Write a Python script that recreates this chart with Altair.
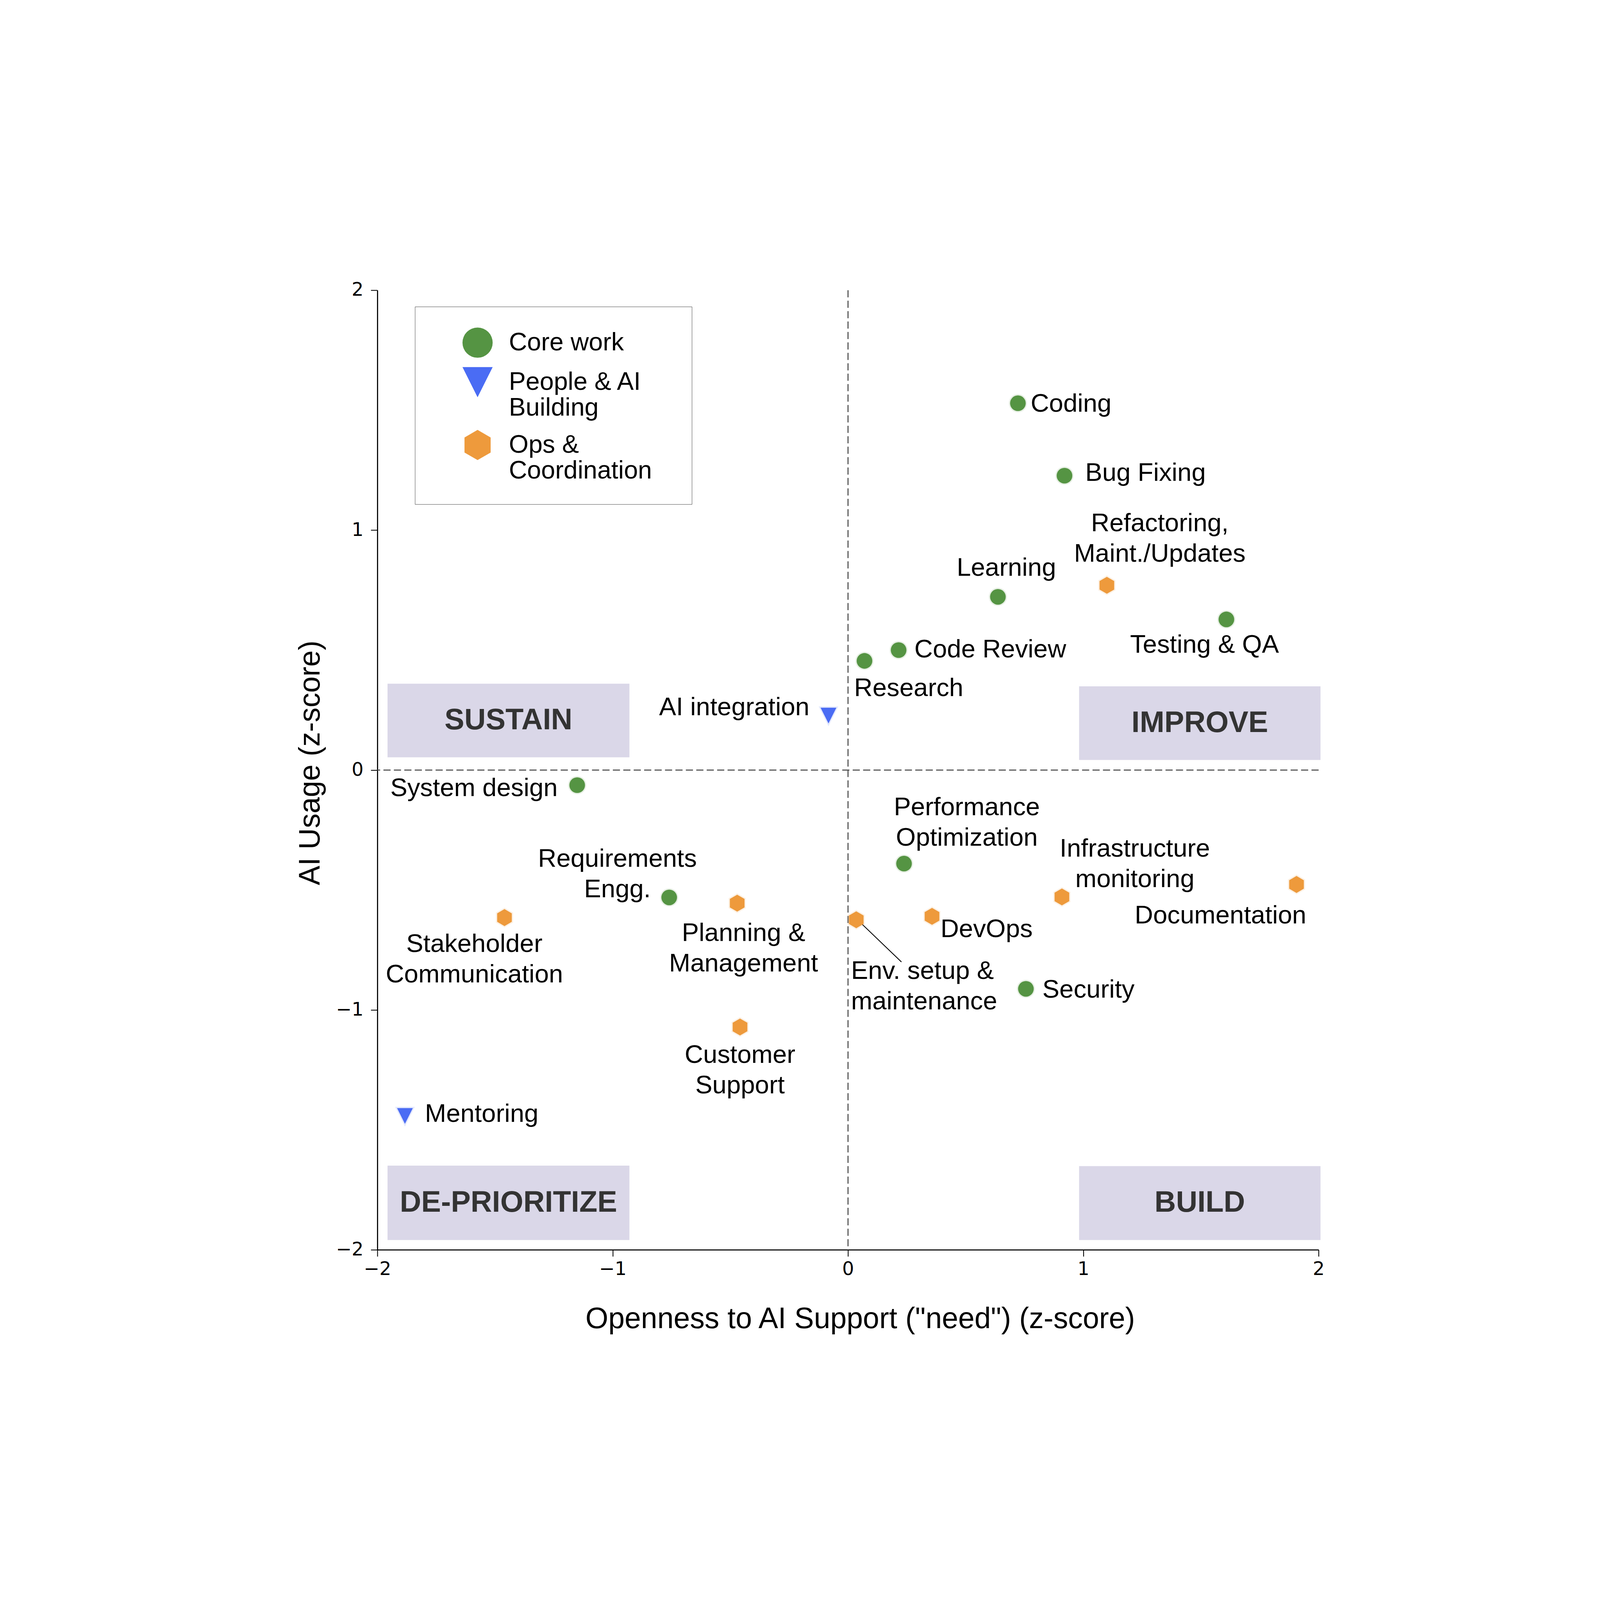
import altair as alt
import pandas as pd

# ---------------- data ----------------
tasks = ["Coding", "Bug Fixing", "Refactoring, Maint./Updates", "Learning", "Testing & QA",
         "Code Review", "Research", "AI integration", "System design", "Requirements Engg.",
         "Planning & Management", "Stakeholder Communication", "Customer Support", "Mentoring",
         "Performance Optimization", "Infrastructure monitoring", "Documentation", "DevOps",
         "Env. setup & maintenance", "Security"]
groups = ["Core work", "Core work", "Ops & Coordination", "Core work", "Core work",
          "Core work", "Core work", "People & AI Building", "Core work", "Core work",
          "Ops & Coordination", "Ops & Coordination", "Ops & Coordination", "People & AI Building",
          "Core work", "Ops & Coordination", "Ops & Coordination", "Ops & Coordination",
          "Ops & Coordination", "Core work"]
need = [0.722, 0.920, 1.100, 0.637, 1.608, 0.215, 0.070, -0.083, -1.151, -0.760,
        -0.471, -1.460, -0.459, -1.883, 0.238, 0.909, 1.906, 0.357, 0.035, 0.756]
usage = [1.529, 1.227, 0.770, 0.722, 0.628, 0.500, 0.455, 0.227, -0.063, -0.531,
         -0.555, -0.615, -1.071, -1.442, -0.390, -0.529, -0.477, -0.610, -0.624, -0.912]

# label text and anchor (data units; multi-line labels anchored at their first line)
label_text = ["Coding", "Bug Fixing", "Refactoring,\nMaint./Updates", "Learning", "Testing & QA",
              "Code Review", "Research", "AI integration", "System design", "Requirements\nEngg.",
              "Planning &\nManagement", "Stakeholder\nCommunication", "Customer\nSupport", "Mentoring",
              "Performance\nOptimization", "Infrastructure\nmonitoring", "Documentation", "DevOps",
              "Env. setup &\nmaintenance", "Security"]
label_x = [0.776, 1.008, 1.325, 0.673, 1.515, 0.282, 0.026, -0.164, -1.234, -0.980,
           -0.444, -1.588, -0.459, -1.798, 0.505, 1.219, 1.583, 0.393, 0.013, 0.826]
label_y = [1.525, 1.237, 1.027, 0.842, 0.521, 0.502, 0.341, 0.261, -0.076, -0.371,
           -0.680, -0.726, -1.188, -1.435, -0.157, -0.329, -0.607, -0.665, -0.839, -0.917]
label_align = ["left", "left", "center", "center", "center", "left", "left", "right", "right", "center",
               "center", "center", "center", "left", "center", "center", "center", "left",
               "left", "left"]

# quadrant boxes
quad_names = ["SUSTAIN", "IMPROVE", "DE-PRIORITIZE", "BUILD"]
quad_x1 = [-1.957, 0.982, -1.957, 0.982]
quad_x2 = [-0.929, 2.008, -0.929, 2.008]
quad_y1 = [0.053, 0.042, -1.959, -1.959]
quad_y2 = [0.360, 0.349, -1.649, -1.651]

# annotation connector for Env. setup
arrow_x1 = [0.037]
arrow_y1 = [-0.621]
arrow_x2 = [0.227]
arrow_y2 = [-0.800]

ticks = [-2, -1, 0, 1, 2]
group_names = ["Core work", "People & AI Building", "Ops & Coordination"]

# ---------------- styles ----------------
group_colors = ["#559443", "#4A6CF4", "#EE9A3C"]
HEX = "M0,-1L0.866,-0.5L0.866,0.5L0,1L-0.866,0.5L-0.866,-0.5Z"
TRI = "M-1,-1L1,-1L0,1Z"
group_shapes = ["circle", TRI, HEX]
SIZE = {"Core work": 3250, "People & AI Building": 3300, "Ops & Coordination": 3800}
FONT = "Liberation Sans"

pts = pd.DataFrame({"task": tasks, "group": groups, "need": need, "usage": usage})
pts["msize"] = pts["group"].map(SIZE)
labs = pd.DataFrame({"text": label_text, "lx": label_x, "ly": label_y, "align": label_align})
quads = pd.DataFrame({"name": quad_names, "x1": quad_x1, "x2": quad_x2, "y1": quad_y1, "y2": quad_y2})
arrow = pd.DataFrame({"x1": arrow_x1, "y1": arrow_y1, "x2": arrow_x2, "y2": arrow_y2})
zero = pd.DataFrame({"v": [0]})

xscale = alt.Scale(domain=[-2, 2], nice=False, zero=False)
yscale = alt.Scale(domain=[-2, 2], nice=False, zero=False)

xaxis = alt.Axis(values=ticks, title='Openness to AI Support ("need") (z-score)', grid=False,
                 domainColor="black", domainWidth=4, tickColor="black", tickWidth=3, tickSize=24,
                 labelFont="DejaVu Sans", labelFontSize=68, labelColor="black", labelPadding=13,
                 labelFlush=False, labelOverlap=False,
                 titleFont=FONT, titleFontSize=107, titleFontWeight="normal", titleColor="black",
                 titleX=1759, titleY=285, titleBaseline="alphabetic", titleAlign="center")
yaxis = alt.Axis(values=ticks, title="AI Usage (z-score)", grid=False,
                 domainColor="black", domainWidth=4, tickColor="black", tickWidth=3, tickSize=24,
                 labelFont="DejaVu Sans", labelFontSize=68, labelColor="black", labelPadding=27,
                 labelFlush=False, labelOverlap=False,
                 titleFont=FONT, titleFontSize=107, titleFontWeight="normal", titleColor="black",
                 titleX=-211, titleY=1722, titleBaseline="alphabetic", titleAlign="center",
                 titleAngle=270)

boxes = alt.Chart(quads).mark_rect(fill="#DAD7E8").encode(
    x=alt.X("x1:Q", scale=xscale, axis=xaxis), x2="x2:Q",
    y=alt.Y("y1:Q", scale=yscale, axis=yaxis), y2="y2:Q")

box_text = alt.Chart(quads).transform_calculate(
    cx="(datum.x1 + datum.x2) / 2", cy="(datum.y1 + datum.y2) / 2"
).mark_text(font=FONT, fontSize=108, fontWeight="bold", color="#333333",
            align="center", baseline="middle").encode(
    x=alt.X("cx:Q", scale=xscale, axis=xaxis), y=alt.Y("cy:Q", scale=yscale, axis=yaxis),
    text="name:N")

vline = alt.Chart(zero).mark_rule(color="#505050", strokeWidth=4, strokeDash=[26, 12]).encode(
    x=alt.X("v:Q", scale=xscale, axis=xaxis))
hline = alt.Chart(zero).mark_rule(color="#505050", strokeWidth=4, strokeDash=[26, 12]).encode(
    y=alt.Y("v:Q", scale=yscale, axis=yaxis))

connector = alt.Chart(arrow).mark_rule(color="black", strokeWidth=3).encode(
    x=alt.X("x1:Q", scale=xscale, axis=xaxis), y=alt.Y("y1:Q", scale=yscale, axis=yaxis),
    x2="x2:Q", y2="y2:Q")

legend = alt.Legend(
    title=".", titleOrient="right", titleColor="white", titleFontSize=24, titlePadding=62,
    orient="none", legendX=137, legendY=60, direction="vertical",
    labelFont=FONT, labelFontSize=92, labelColor="black", labelLimit=3000, labelOffset=59,
    symbolSize=12100, symbolOffset=97, symbolStrokeWidth=0, symbolOpacity=1,
    padding=76, rowPadding=34, strokeColor="black", fillColor="white",
    labelExpr=("datum.label == 'People & AI Building' ? ['People & AI', 'Building'] : "
               "datum.label == 'Ops & Coordination' ? ['Ops &', 'Coordination'] : datum.label"))

points = alt.Chart(pts).mark_point(filled=True, opacity=1, strokeWidth=9, strokeOpacity=0.15).encode(
    x=alt.X("need:Q", scale=xscale, axis=xaxis),
    y=alt.Y("usage:Q", scale=yscale, axis=yaxis),
    fill=alt.Fill("group:N", scale=alt.Scale(domain=group_names, range=group_colors), legend=legend),
    shape=alt.Shape("group:N", scale=alt.Scale(domain=group_names, range=group_shapes), legend=legend),
    stroke=alt.Stroke("group:N", scale=alt.Scale(domain=group_names, range=group_colors), legend=None),
    size=alt.Size("msize:Q", scale=None, legend=None))

def label_layer(a):
    return alt.Chart(labs).transform_filter(alt.datum.align == a).mark_text(
        font=FONT, fontSize=93, color="black", align=a, baseline="middle",
        lineBreak="\n", lineHeight=111).encode(
        x=alt.X("lx:Q", scale=xscale, axis=xaxis), y=alt.Y("ly:Q", scale=yscale, axis=yaxis),
        text="text:N")

chart = alt.layer(
    boxes, box_text, vline, hline, connector, points,
    label_layer("left"), label_layer("center"), label_layer("right")
).properties(
    width=3430, height=3497,
    padding={"left": 1364, "top": 162, "right": 1014, "bottom": 517},
    autosize=alt.AutoSizeParams(type="none"),
).configure_view(strokeWidth=0)

chart.save("out.html", embed_options={"renderer": "svg", "actions": False})
